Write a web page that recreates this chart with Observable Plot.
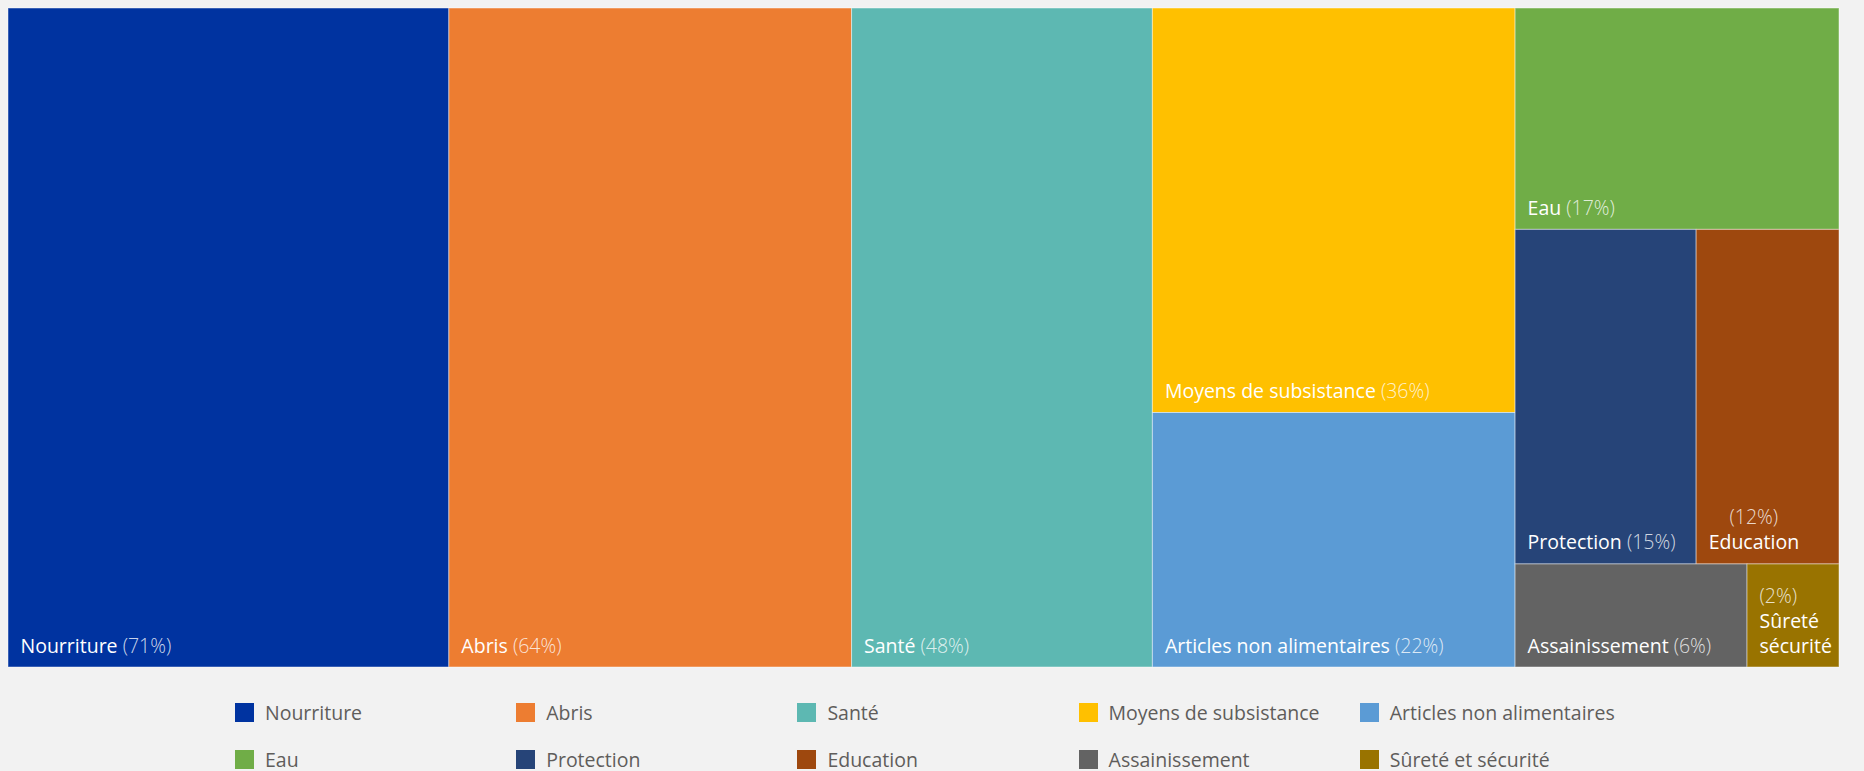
<!DOCTYPE html>
<html><head><meta charset="utf-8">
<script src="https://cdn.jsdelivr.net/npm/d3@7"></script>
<script src="https://cdn.jsdelivr.net/npm/@observablehq/plot@0.6"></script>
<style>
html,body{margin:0;padding:0;background:#f2f2f2;}
body{width:1864px;height:771px;overflow:hidden;font-family:"Open Sans",sans-serif;}
#chart svg{display:block;background:#f2f2f2;}
#legend{margin-top:28px;margin-left:235px;display:grid;grid-template-columns:repeat(5,281.2px);row-gap:28px;}
.item{display:flex;align-items:center;height:19px;font-size:19.5px;color:#5f5d5b;white-space:nowrap;}
.sw{width:19px;height:19px;margin-right:11px;flex:none;}
</style></head><body>
<div id="chart"></div><div id="legend"></div>
<script>
const categories = ["Nourriture","Abris","Santé","Moyens de subsistance","Articles non alimentaires","Eau","Protection","Education","Assainissement","Sûreté et sécurité"];
// shares (%); labels show them rounded
const values = [70.5, 64.4, 48.1, 35.6, 22.4, 17.4, 14.7, 11.6, 5.8, 2.3];
const colors = ["#0033a0","#ed7d31","#5db8b2","#ffc000","#5b9bd5","#70ad47","#264478","#9e480e","#636363","#997300"];
// label text as wrapped in the reference ("{p}" = rounded share)
const labelTemplates = ["Nourriture {p}","Abris {p}","Santé {p}","Moyens de subsistance {p}","Articles non alimentaires {p}","Eau {p}","Protection {p}","{p}\nEducation","Assainissement {p}","{p}\nSûreté\nsécurité"];
// layout grouping (indices into categories): columns, then rows inside columns
const groups = [[0],[1],[2],[3,4],[5,[6,7],[8,9]]];

const FONT = '"Open Sans", sans-serif';

function build(g) {
  if (typeof g === "number") return {name: categories[g], value: values[g], label: labelTemplates[g].replace("{p}", `(${Math.round(values[g])}%)`)};
  if (g.length === 1) return build(g[0]);
  return {children: g.map(build)};
}
const rootData = {children: groups.map(build)};
const root = d3.hierarchy(rootData).sum(d => d.children ? 0 : d.value);
d3.treemap().tile(d3.treemapSliceDice).size([1, 1]).round(false)(root);
const leaves = root.leaves();

const chart = Plot.plot({
  width: 1864, height: 675,
  marginTop: 8, marginBottom: 8, marginLeft: 8, marginRight: 25,
  axis: null,
  style: {background: "#f2f2f2", fontFamily: FONT},
  x: {domain: [0, 1]},
  y: {domain: [0, 1], reverse: true},
  color: {domain: categories, range: colors},
  marks: [
    Plot.rect(leaves, {x1: d => d.x0, x2: d => d.x1, y1: d => d.y0, y2: d => d.y1, fill: d => d.data.name, stroke: "white", strokeOpacity: 0.45, strokeWidth: 1}),
    Plot.text(leaves, {x: d => d.x0, y: d => d.y1, text: d => d.data.label, textAnchor: "start", lineAnchor: "bottom", dx: 12, dy: -15, fill: "white", fontSize: 19.5, lineHeight: 1.28, className: "lbl"})
  ]
});
document.getElementById("chart").appendChild(chart);

// style percentage parts lighter
d3.select(chart).selectAll("g.lbl text").each(function() {
  const t = d3.select(this);
  const spans = t.selectAll("tspan");
  if (spans.empty()) {
    const s = this.textContent; const i = s.lastIndexOf(" (");
    if (i > 0) {
      this.textContent = "";
      t.append("tspan").text(s.slice(0, i) + " ");
      t.append("tspan").attr("fill-opacity", 0.8).attr("font-weight", 300).text(s.slice(i + 1));
    }
  } else {
    const nodes = spans.nodes();
    nodes.forEach(n => { if (n.textContent.startsWith("(")) { n.setAttribute("fill-opacity", 0.8); n.setAttribute("font-weight", 300); } });
    if (nodes.length === 2) {
      const w0 = nodes[0].getComputedTextLength(), w1 = nodes[1].getComputedTextLength();
      if (w0 < w1) nodes[0].setAttribute("x", (w1 - w0) / 2);
    }
  }
});

// legend
const legend = d3.select("#legend");
categories.forEach((c, i) => {
  const it = legend.append("div").attr("class", "item");
  it.append("div").attr("class", "sw").style("background", colors[i]);
  it.append("span").text(c);
});
</script>
</body></html>
